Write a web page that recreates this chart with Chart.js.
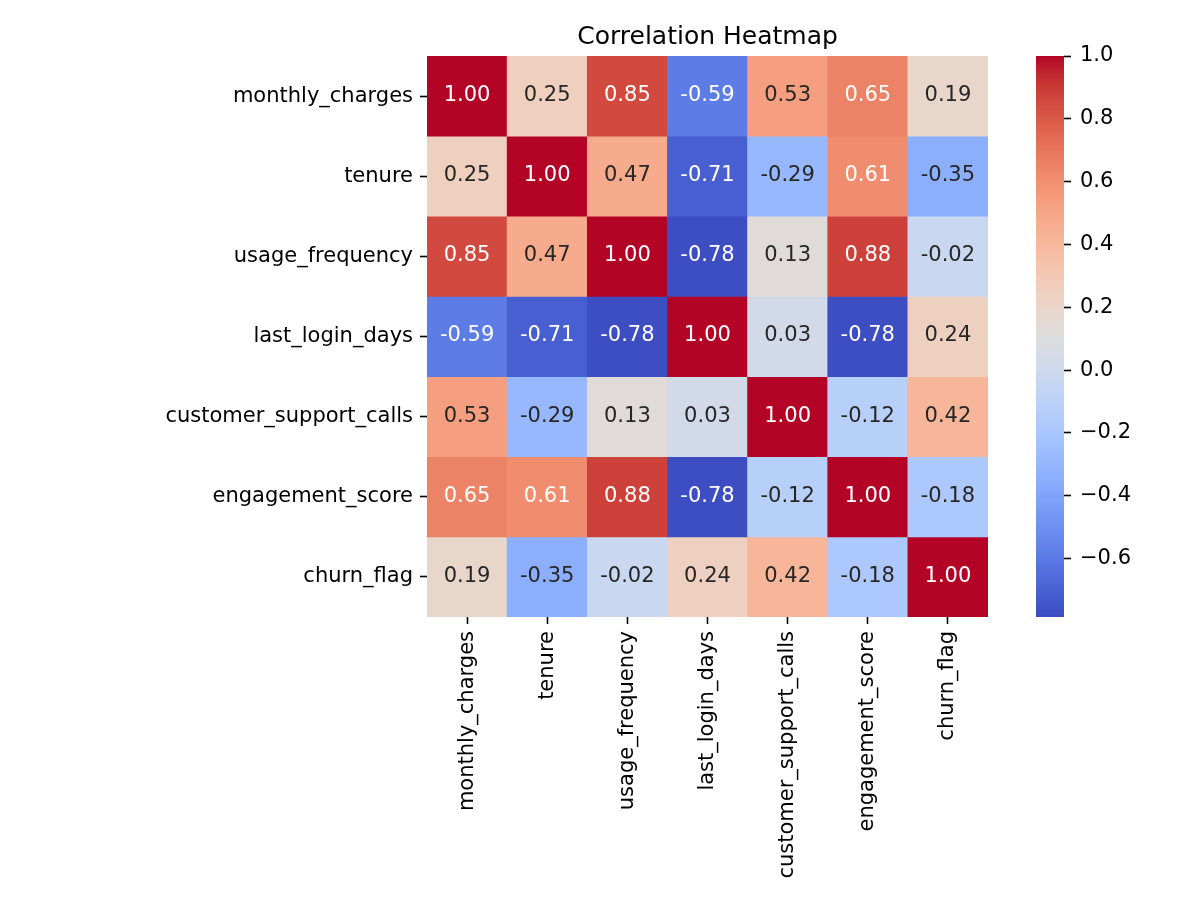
<!DOCTYPE html>
<html lang="en">
<head>
    <meta charset="UTF-8">
    <title>Correlation Heatmap</title>
    <script src="https://cdn.jsdelivr.net/npm/chart.js"></script>
    <style>
        body { margin: 0; background: #fff; }
        .wrap { position: relative; width: 1200px; height: 900px; }
        .wrap canvas { position: absolute; left: 0; top: 0; }
    </style>
</head>
<body>
    <div class="wrap">
        <canvas id="heatmap" width="1200" height="900"></canvas>
        <canvas id="colorbar" width="1200" height="900"></canvas>
    </div>

    <script>
        // features, same order on both axes
        const features = ['monthly_charges', 'tenure', 'usage_frequency', 'last_login_days',
            'customer_support_calls', 'engagement_score', 'churn_flag'];

        // one row of the correlation matrix per feature
        const monthlyCharges = [1.00, 0.25, 0.85, -0.59, 0.53, 0.65, 0.19];
        const tenure = [0.25, 1.00, 0.47, -0.71, -0.29, 0.61, -0.35];
        const usageFrequency = [0.85, 0.47, 1.00, -0.78, 0.13, 0.88, -0.02];
        const lastLoginDays = [-0.59, -0.71, -0.78, 1.00, 0.03, -0.78, 0.24];
        const supportCalls = [0.53, -0.29, 0.13, 0.03, 1.00, -0.12, 0.42];
        const engagementScore = [0.65, 0.61, 0.88, -0.78, -0.12, 1.00, -0.18];
        const churnFlag = [0.19, -0.35, -0.02, 0.24, 0.42, -0.18, 1.00];
        const matrix = [monthlyCharges, tenure, usageFrequency, lastLoginDays, supportCalls, engagementScore, churnFlag];

        // colour scale range and colorbar ticks
        const colorMin = -0.786;
        const colorMax = 1.0;
        const colorbarTicks = [-0.6, -0.4, -0.2, 0.0, 0.2, 0.4, 0.6, 0.8, 1.0];

        // coolwarm, 33 evenly spaced stops
        const coolwarm = [
            [59, 76, 192], [68, 90, 204], [77, 104, 215], [87, 117, 225], [98, 130, 234],
            [108, 142, 241], [119, 154, 247], [130, 165, 251], [141, 176, 254], [152, 185, 255],
            [163, 194, 255], [174, 201, 253], [184, 208, 249], [194, 213, 244], [204, 217, 238],
            [213, 219, 230], [221, 221, 221], [229, 216, 209], [236, 211, 197], [241, 204, 185],
            [245, 196, 173], [247, 187, 160], [247, 177, 148], [247, 166, 135], [244, 154, 123],
            [241, 141, 111], [236, 127, 99], [229, 112, 88], [222, 96, 77], [213, 80, 66],
            [203, 62, 56], [192, 40, 47], [180, 4, 38]
        ];

        const FONT = 'DejaVu Sans';

        function cmap(t) {
            t = Math.max(0, Math.min(1, t));
            const pos = t * (coolwarm.length - 1);
            const i = Math.min(Math.floor(pos), coolwarm.length - 2);
            const f = pos - i;
            const a = coolwarm[i], b = coolwarm[i + 1];
            return a.map((c, k) => Math.round(c + (b[k] - c) * f));
        }

        function valueRgb(v) {
            return cmap((v - colorMin) / (colorMax - colorMin));
        }

        function rgbStr(c) {
            return 'rgb(' + c[0] + ',' + c[1] + ',' + c[2] + ')';
        }

        // same rule seaborn uses to pick the annotation colour
        function luminance(c) {
            const lin = c.map(x => {
                x = x / 255;
                return x <= 0.03928 ? x / 12.92 : Math.pow((x + 0.055) / 1.055, 2.4);
            });
            return 0.2126 * lin[0] + 0.7152 * lin[1] + 0.0722 * lin[2];
        }

        const datasets = matrix.map((row, r) => ({
            label: features[r],
            data: row.map(() => [r, r + 1]),
            backgroundColor: row.map(v => rgbStr(valueRgb(v))),
            borderWidth: 0,
            grouped: false,
            categoryPercentage: 1,
            barPercentage: 1
        }));

        const annotate = {
            id: 'annotate',
            afterDatasetsDraw(chart) {
                const ctx = chart.ctx;
                ctx.save();
                ctx.font = '21px "' + FONT + '"';
                ctx.textAlign = 'center';
                ctx.textBaseline = 'middle';
                chart.data.datasets.forEach((ds, r) => {
                    chart.getDatasetMeta(r).data.forEach((bar, c) => {
                        const v = matrix[r][c];
                        ctx.fillStyle = luminance(valueRgb(v)) > 0.408 ? '#262626' : '#ffffff';
                        ctx.fillText(v.toFixed(2), bar.x, (bar.y + bar.base) / 2 - 0.5);
                    });
                });
                ctx.restore();
            }
        };

        const heading = {
            id: 'heading',
            afterDraw(chart) {
                const a = chart.chartArea;
                const ctx = chart.ctx;
                ctx.save();
                ctx.font = '25px "' + FONT + '"';
                ctx.fillStyle = '#000';
                ctx.textAlign = 'center';
                ctx.textBaseline = 'alphabetic';
                ctx.fillText('Correlation Heatmap', (a.left + a.right) / 2, 44);
                ctx.restore();
            }
        };

        const tickFont = { family: FONT, size: 21 };

        new Chart(document.getElementById('heatmap'), {
            type: 'bar',
            data: { labels: features, datasets: datasets },
            options: {
                responsive: false,
                animation: false,
                layout: { padding: { top: 56, right: 212, bottom: 0, left: 0 } },
                plugins: { legend: { display: false }, tooltip: { enabled: false } },
                scales: {
                    x: {
                        type: 'category',
                        offset: true,
                        border: { display: false },
                        grid: { offset: false, drawOnChartArea: false, tickLength: 7, tickColor: '#000', tickWidth: 1.6 },
                        ticks: { color: '#000', font: tickFont, minRotation: 90, maxRotation: 90, padding: 7, autoSkip: false },
                        afterFit(scale) { scale.height = 283; }
                    },
                    y: {
                        type: 'linear',
                        min: 0,
                        max: features.length,
                        reverse: true,
                        border: { display: false },
                        grid: { drawOnChartArea: false, tickLength: 7, tickColor: '#000', tickWidth: 1.6 },
                        ticks: {
                            color: '#000',
                            font: tickFont,
                            padding: 7,
                            autoSkip: false,
                            callback: v => features[Math.floor(v)]
                        },
                        afterBuildTicks(scale) {
                            scale.ticks = features.map((f, i) => ({ value: i + 0.5 }));
                        },
                        afterFit(scale) { scale.width = 427; }
                    }
                }
            },
            plugins: [annotate, heading]
        });

        // colorbar: one floating bar from colorMin to colorMax filled with the colormap
        function barGradient(context) {
            const chart = context.chart;
            const y = chart.scales.y;
            if (!chart.chartArea || !y) return rgbStr(coolwarm[16]);
            const g = chart.ctx.createLinearGradient(0, y.getPixelForValue(colorMin), 0, y.getPixelForValue(colorMax));
            coolwarm.forEach((c, i) => g.addColorStop(i / (coolwarm.length - 1), rgbStr(c)));
            return g;
        }

        new Chart(document.getElementById('colorbar'), {
            type: 'bar',
            data: {
                labels: [''],
                datasets: [{
                    data: [[colorMin, colorMax]],
                    backgroundColor: barGradient,
                    borderWidth: 0,
                    categoryPercentage: 1,
                    barPercentage: 1
                }]
            },
            options: {
                responsive: false,
                animation: false,
                layout: { padding: { top: 56, right: 36, bottom: 283, left: 1036 } },
                plugins: { legend: { display: false }, tooltip: { enabled: false } },
                scales: {
                    x: { display: false },
                    y: {
                        position: 'right',
                        min: colorMin,
                        max: colorMax,
                        border: { display: false },
                        grid: { drawOnChartArea: false, tickLength: 7, tickColor: '#000', tickWidth: 1.6 },
                        ticks: {
                            color: '#000',
                            font: tickFont,
                            padding: 9,
                            callback: v => (v < 0 ? '\u2212' : '') + Math.abs(v).toFixed(1)
                        },
                        afterBuildTicks(scale) {
                            scale.ticks = colorbarTicks.map(v => ({ value: v }));
                        },
                        afterFit(scale) { scale.width = 100; }
                    }
                }
            }
        });
    </script>
</body>
</html>
